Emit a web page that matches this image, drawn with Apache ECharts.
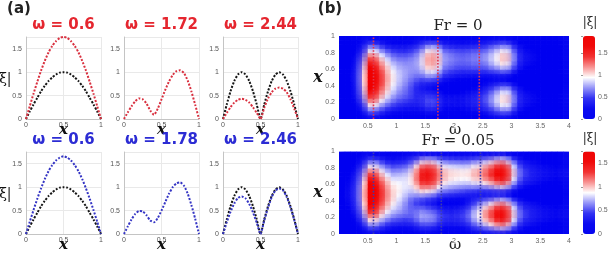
<!DOCTYPE html>
<html lang="en">
<head>
    <meta charset="UTF-8">
    <title>Response of the beam</title>
    <script src="https://cdn.jsdelivr.net/npm/echarts@6/dist/echarts.min.js"></script>
    <style>
        html, body {
            margin: 0;
            padding: 0;
            background: #fff;
        }
        #box {
            width: 614px;
            height: 255px;
        }
    </style>
</head>
<body>
<div id="box"></div>
<script>
    // ---- panel (a): mode shapes along x ----
    var xs = [0, 0.05, 0.1, 0.15, 0.2, 0.25, 0.3, 0.35, 0.4, 0.45, 0.5, 0.55, 0.6, 0.65, 0.7, 0.75, 0.8, 0.85, 0.9, 0.95, 1];
    var topOmegas = [0.6, 1.72, 2.44];   // Fr = 0
    var bottomOmegas = [0.6, 1.78, 2.46]; // Fr = 0.05

    var blackMode1 = [0, 0.16, 0.31, 0.45, 0.59, 0.71, 0.81, 0.89, 0.95, 0.99, 1, 0.99, 0.95, 0.89, 0.81, 0.71, 0.59, 0.45, 0.31, 0.16, 0];
    var blackMode2 = [0, 0.31, 0.59, 0.81, 0.95, 1, 0.95, 0.81, 0.59, 0.31, 0, 0.31, 0.59, 0.81, 0.95, 1, 0.95, 0.81, 0.59, 0.31, 0];
    var red06 = [0, 0.27, 0.54, 0.79, 1.03, 1.24, 1.42, 1.56, 1.66, 1.73, 1.75, 1.73, 1.66, 1.56, 1.42, 1.24, 1.03, 0.79, 0.54, 0.27, 0];
    var red172 = [0, 0.14, 0.27, 0.38, 0.44, 0.42, 0.33, 0.18, 0.09, 0.22, 0.42, 0.62, 0.80, 0.94, 1.02, 1.04, 0.98, 0.82, 0.58, 0.30, 0];
    var red244 = [0, 0.13, 0.25, 0.35, 0.41, 0.43, 0.41, 0.35, 0.25, 0.13, 0, 0.24, 0.44, 0.57, 0.65, 0.67, 0.65, 0.57, 0.42, 0.22, 0];
    var blue06 = [0, 0.26, 0.51, 0.75, 0.97, 1.17, 1.34, 1.47, 1.57, 1.63, 1.66, 1.63, 1.57, 1.47, 1.34, 1.17, 0.97, 0.75, 0.51, 0.26, 0];
    var blue178 = [0, 0.16, 0.31, 0.43, 0.49, 0.48, 0.40, 0.29, 0.25, 0.34, 0.50, 0.68, 0.86, 1.00, 1.08, 1.10, 1.03, 0.86, 0.61, 0.32, 0];
    var blue246 = [0, 0.25, 0.47, 0.65, 0.77, 0.80, 0.76, 0.64, 0.46, 0.24, 0, 0.29, 0.56, 0.79, 0.93, 0.97, 0.93, 0.79, 0.57, 0.30, 0];

    // ---- panel (b): |xi| over (omega, x), one row per omega cell, x from 0 to 1 ----
    var omegaCells = [0.05, 0.15, 0.25, 0.35, 0.45, 0.55, 0.65, 0.75, 0.85, 0.95, 1.05, 1.15, 1.25, 1.35, 1.45, 1.55, 1.65, 1.75, 1.85, 1.95,
        2.05, 2.15, 2.25, 2.35, 2.45, 2.55, 2.65, 2.75, 2.85, 2.95, 3.05, 3.15, 3.25, 3.35, 3.45, 3.55, 3.65, 3.75, 3.85, 3.95];
    var xCells = [0.025, 0.075, 0.125, 0.175, 0.225, 0.275, 0.325, 0.375, 0.425, 0.475, 0.525, 0.575, 0.625, 0.675, 0.725, 0.775, 0.825, 0.875, 0.925, 0.975];
    var barMax = [1.88, 1.75];

    var fr0Map = [
        [.01,.03,.06,.08,.1,.11,.13,.14,.15,.15,.15,.15,.14,.13,.11,.1,.08,.06,.03,.01],
        [.01,.04,.07,.09,.12,.14,.15,.17,.17,.18,.18,.17,.17,.15,.14,.12,.09,.07,.04,.01],
        [.02,.06,.1,.13,.16,.19,.21,.23,.24,.25,.25,.24,.23,.21,.19,.16,.13,.1,.06,.02],
        [.04,.1,.17,.23,.29,.34,.38,.41,.44,.45,.45,.44,.41,.38,.34,.29,.23,.17,.1,.04],
        [.08,.22,.36,.49,.62,.72,.81,.87,.92,.95,.95,.92,.87,.81,.72,.62,.49,.36,.22,.08],
        [.15,.43,.7,.96,1.2,1.41,1.57,1.7,1.79,1.85,1.85,1.79,1.7,1.57,1.41,1.2,.96,.7,.43,.15],
        [.14,.41,.68,.94,1.17,1.37,1.53,1.66,1.75,1.8,1.8,1.75,1.66,1.53,1.37,1.17,.94,.68,.41,.14],
        [.12,.33,.55,.75,.94,1.1,1.23,1.33,1.41,1.45,1.45,1.41,1.33,1.23,1.1,.94,.75,.55,.33,.12],
        [.09,.27,.45,.61,.77,.9,1.0,1.09,1.14,1.18,1.18,1.14,1.09,1.0,.9,.77,.61,.45,.27,.09],
        [.08,.23,.37,.51,.64,.74,.83,.9,.95,.98,.98,.95,.9,.83,.74,.64,.51,.37,.23,.08],
        [.07,.2,.33,.45,.55,.64,.71,.76,.81,.84,.85,.84,.79,.75,.67,.58,.48,.35,.21,.08],
        [.07,.19,.3,.41,.51,.59,.64,.67,.72,.75,.77,.77,.75,.71,.65,.57,.46,.34,.22,.08],
        [.06,.18,.3,.39,.48,.54,.56,.57,.61,.66,.7,.72,.72,.71,.67,.59,.49,.37,.23,.08],
        [.06,.17,.29,.38,.44,.47,.47,.45,.49,.56,.63,.69,.71,.72,.7,.65,.55,.42,.26,.09],
        [.06,.2,.31,.41,.46,.46,.42,.35,.38,.49,.61,.72,.8,.85,.85,.81,.71,.54,.34,.11],
        [.09,.25,.39,.5,.55,.51,.42,.29,.33,.5,.69,.86,1.01,1.1,1.13,1.1,.96,.75,.48,.16],
        [.08,.25,.41,.52,.56,.51,.4,.27,.31,.49,.7,.9,1.05,1.16,1.19,1.17,1.04,.81,.5,.17],
        [.08,.22,.35,.45,.49,.44,.34,.2,.24,.4,.59,.77,.92,1.02,1.06,1.04,.91,.71,.45,.15],
        [.06,.16,.25,.32,.34,.31,.24,.14,.17,.29,.43,.55,.65,.72,.75,.74,.65,.51,.32,.11],
        [.05,.15,.25,.31,.34,.31,.23,.15,.16,.25,.37,.49,.6,.66,.7,.68,.6,.48,.3,.1],
        [.04,.15,.24,.31,.32,.31,.23,.15,.15,.22,.32,.45,.55,.61,.65,.63,.56,.44,.28,.09],
        [.05,.15,.25,.31,.33,.31,.25,.18,.15,.21,.31,.42,.53,.59,.62,.6,.54,.43,.26,.09],
        [.06,.17,.27,.34,.37,.35,.28,.2,.18,.2,.29,.42,.53,.59,.63,.61,.55,.43,.27,.09],
        [.06,.18,.31,.39,.42,.4,.33,.25,.2,.2,.28,.42,.55,.62,.66,.65,.58,.46,.28,.1],
        [.07,.2,.33,.42,.47,.45,.37,.29,.22,.2,.27,.41,.55,.62,.68,.67,.59,.47,.29,.1],
        [.08,.24,.39,.48,.53,.52,.44,.35,.26,.19,.25,.4,.55,.63,.7,.7,.61,.49,.31,.11],
        [.11,.31,.48,.6,.67,.65,.58,.46,.32,.2,.24,.45,.62,.74,.8,.79,.71,.57,.36,.12],
        [.13,.38,.59,.75,.83,.82,.74,.58,.39,.2,.23,.48,.69,.85,.91,.91,.83,.65,.42,.14],
        [.16,.46,.71,.91,1.0,1.0,.91,.71,.48,.21,.23,.53,.79,.98,1.06,1.06,.96,.75,.49,.17],
        [.16,.47,.74,.93,1.03,1.03,.93,.75,.49,.21,.22,.52,.78,.97,1.06,1.06,.96,.76,.48,.17],
        [.12,.33,.52,.65,.72,.72,.65,.52,.34,.14,.15,.36,.55,.67,.74,.74,.66,.53,.34,.12],
        [.08,.21,.33,.42,.47,.47,.42,.34,.22,.09,.1,.23,.35,.43,.48,.48,.43,.34,.21,.08],
        [.06,.16,.25,.31,.35,.35,.31,.25,.16,.06,.06,.16,.25,.31,.35,.35,.31,.25,.16,.06],
        [.05,.14,.21,.27,.3,.3,.27,.21,.14,.05,.05,.14,.21,.27,.3,.3,.27,.21,.14,.05],
        [.04,.12,.18,.23,.26,.26,.23,.18,.12,.04,.04,.12,.18,.23,.26,.26,.23,.18,.12,.04],
        [.04,.1,.16,.2,.23,.23,.2,.16,.1,.04,.04,.1,.16,.2,.23,.23,.2,.16,.1,.04],
        [.03,.09,.15,.19,.21,.21,.19,.15,.09,.03,.03,.09,.15,.19,.21,.21,.19,.15,.09,.03],
        [.03,.09,.14,.18,.2,.2,.18,.14,.09,.03,.03,.09,.14,.18,.2,.2,.18,.14,.09,.03],
        [.03,.09,.13,.17,.19,.19,.17,.13,.09,.03,.03,.09,.13,.17,.19,.19,.17,.13,.09,.03],
        [.03,.08,.13,.16,.18,.18,.16,.13,.08,.03,.03,.08,.13,.16,.18,.18,.16,.13,.08,.03]
    ];

    var fr005Map = [
        [.02,.05,.08,.1,.13,.15,.17,.18,.19,.2,.2,.19,.18,.17,.15,.13,.1,.08,.05,.02],
        [.02,.06,.1,.13,.16,.19,.21,.23,.24,.25,.25,.24,.23,.21,.19,.16,.13,.1,.06,.02],
        [.03,.07,.12,.17,.21,.24,.27,.29,.31,.32,.32,.31,.29,.27,.24,.21,.17,.12,.07,.03],
        [.04,.12,.19,.26,.33,.38,.43,.46,.49,.5,.5,.49,.46,.43,.38,.33,.26,.19,.12,.04],
        [.08,.22,.36,.49,.62,.72,.81,.87,.92,.95,.95,.92,.87,.81,.72,.62,.49,.36,.22,.08],
        [.14,.4,.65,.89,1.12,1.31,1.46,1.58,1.67,1.72,1.72,1.67,1.58,1.46,1.31,1.12,.89,.65,.4,.14],
        [.14,.4,.67,.91,1.14,1.33,1.49,1.61,1.7,1.75,1.75,1.7,1.61,1.49,1.33,1.14,.91,.67,.4,.14],
        [.11,.32,.53,.73,.91,1.06,1.19,1.29,1.36,1.4,1.4,1.36,1.29,1.19,1.06,.91,.73,.53,.32,.11],
        [.09,.26,.44,.6,.75,.87,.98,1.06,1.12,1.15,1.15,1.12,1.06,.98,.87,.75,.6,.44,.26,.09],
        [.08,.23,.37,.51,.64,.74,.83,.9,.95,.98,.98,.95,.9,.83,.74,.64,.51,.37,.23,.08],
        [.08,.22,.35,.48,.59,.69,.75,.79,.84,.88,.9,.89,.87,.82,.75,.65,.53,.39,.25,.09],
        [.07,.21,.34,.45,.56,.63,.66,.68,.73,.78,.82,.84,.83,.81,.76,.67,.55,.41,.26,.09],
        [.07,.21,.34,.46,.54,.57,.57,.56,.59,.68,.76,.81,.86,.86,.83,.77,.65,.49,.31,.1],
        [.08,.25,.4,.53,.59,.59,.54,.46,.5,.64,.79,.92,1.02,1.08,1.07,1.03,.89,.68,.43,.14],
        [.1,.31,.49,.64,.71,.67,.56,.42,.46,.67,.9,1.11,1.28,1.39,1.41,1.37,1.21,.93,.59,.19],
        [.11,.32,.51,.65,.7,.64,.51,.34,.39,.62,.88,1.11,1.31,1.44,1.49,1.46,1.28,1.0,.64,.22],
        [.1,.3,.49,.63,.67,.6,.47,.3,.35,.57,.83,1.07,1.27,1.4,1.45,1.43,1.26,.98,.62,.21],
        [.09,.25,.4,.51,.55,.5,.38,.22,.27,.45,.67,.88,1.05,1.17,1.21,1.19,1.05,.82,.52,.18],
        [.08,.22,.34,.44,.47,.42,.32,.18,.22,.38,.57,.75,.9,1.0,1.04,1.02,.9,.7,.45,.15],
        [.07,.2,.32,.41,.44,.38,.29,.17,.2,.35,.53,.69,.83,.92,.96,.95,.84,.65,.42,.14],
        [.07,.2,.33,.41,.45,.41,.3,.2,.2,.33,.5,.66,.81,.89,.94,.93,.82,.64,.4,.13],
        [.07,.22,.34,.44,.47,.44,.34,.22,.22,.32,.47,.64,.78,.88,.92,.91,.8,.62,.4,.13],
        [.08,.24,.37,.48,.53,.5,.4,.28,.25,.3,.43,.61,.77,.87,.92,.9,.8,.62,.39,.13],
        [.11,.32,.51,.64,.71,.69,.58,.44,.34,.29,.39,.62,.82,.94,1.02,1.0,.89,.7,.44,.15],
        [.13,.39,.62,.78,.86,.85,.75,.6,.43,.27,.33,.59,.82,.96,1.05,1.04,.92,.73,.47,.16],
        [.16,.48,.75,.96,1.05,1.05,.94,.74,.51,.26,.29,.61,.88,1.07,1.17,1.15,1.04,.82,.52,.18],
        [.19,.56,.88,1.1,1.22,1.23,1.09,.88,.59,.27,.29,.66,.97,1.18,1.3,1.29,1.16,.93,.58,.2],
        [.23,.66,1.04,1.31,1.46,1.46,1.31,1.05,.69,.3,.31,.74,1.11,1.37,1.51,1.5,1.35,1.07,.68,.23],
        [.25,.72,1.14,1.43,1.58,1.59,1.43,1.16,.76,.32,.33,.79,1.19,1.47,1.62,1.61,1.46,1.16,.73,.26],
        [.22,.65,1.02,1.29,1.43,1.44,1.3,1.04,.68,.28,.29,.7,1.07,1.32,1.46,1.45,1.31,1.03,.65,.22],
        [.15,.44,.69,.87,.97,.97,.88,.71,.47,.19,.19,.47,.71,.88,.97,.97,.87,.69,.44,.15],
        [.1,.28,.45,.55,.62,.62,.56,.47,.31,.14,.14,.31,.47,.56,.62,.62,.55,.45,.28,.1],
        [.07,.21,.34,.42,.48,.48,.43,.35,.24,.11,.11,.24,.35,.43,.48,.48,.42,.34,.21,.07],
        [.06,.18,.28,.36,.4,.4,.37,.3,.2,.09,.09,.2,.3,.37,.4,.4,.36,.28,.18,.06],
        [.05,.16,.25,.31,.35,.35,.32,.26,.18,.08,.08,.18,.26,.32,.35,.35,.31,.25,.16,.05],
        [.05,.14,.22,.28,.31,.31,.28,.23,.16,.07,.07,.16,.23,.28,.31,.31,.28,.22,.14,.05],
        [.05,.13,.21,.26,.29,.29,.26,.21,.15,.07,.07,.15,.21,.26,.29,.29,.26,.21,.13,.05],
        [.04,.12,.19,.24,.27,.27,.24,.2,.14,.06,.06,.14,.2,.24,.27,.27,.24,.19,.12,.04],
        [.04,.12,.18,.23,.26,.26,.23,.19,.13,.06,.06,.13,.19,.23,.26,.26,.23,.18,.12,.04],
        [.04,.11,.18,.22,.25,.25,.22,.18,.13,.06,.06,.13,.18,.22,.25,.25,.22,.18,.11,.04]
    ];

    // colours
    var RED = '#d9303f', RED_TITLE = '#e5262f';
    var BLUE = '#3434c4', BLUE_TITLE = '#2c2cd4';
    var BLACK = '#151515';
    // blue-white-red bar, saturated at both ends
    var MAP_COLORS = ['#0505f0', '#0a0af0', '#3232f2', '#9494f8', '#ffffff', '#f89494', '#f23232', '#f00a0a', '#f00505'];

    var halfStep = function (v) {
        return Math.abs(v * 2 - Math.round(v * 2)) < 1e-6 ? String(v) : '';
    };

    // small plots of panel (a)
    var plots = [
        {left: 26, top: 37, omega: topOmegas[0], title: RED_TITLE, lines: [[blackMode1, BLACK], [red06, RED]]},
        {left: 124, top: 37, omega: topOmegas[1], title: RED_TITLE, lines: [[red172, RED]]},
        {left: 223, top: 37, omega: topOmegas[2], title: RED_TITLE, lines: [[blackMode2, BLACK], [red244, RED]]},
        {left: 26, top: 152, omega: bottomOmegas[0], title: BLUE_TITLE, lines: [[blackMode1, BLACK], [blue06, BLUE]]},
        {left: 124, top: 152, omega: bottomOmegas[1], title: BLUE_TITLE, lines: [[blue178, BLUE]]},
        {left: 223, top: 152, omega: bottomOmegas[2], title: BLUE_TITLE, lines: [[blackMode2, BLACK], [blue246, BLUE]]}
    ];

    var grid = [], xAxis = [], yAxis = [], series = [], graphic = [], visualMap = [];

    function label(text, x, y, size, color, family, weight, style) {
        graphic.push({
            type: 'text', x: x, y: y, z: 100, silent: true,
            style: {
                text: text, fill: color, align: 'center', verticalAlign: 'middle',
                fontSize: size, fontFamily: family, fontWeight: weight || 'normal', fontStyle: style || 'normal'
            }
        });
    }

    plots.forEach(function (p, i) {
        grid.push({left: p.left, top: p.top, width: 75, height: 82});
        xAxis.push({
            gridIndex: i, type: 'value', min: 0, max: 1, interval: 0.5,
            axisLine: {lineStyle: {color: '#c4c4c4'}},
            axisTick: {show: false},
            axisLabel: {fontSize: 7, color: '#555', margin: 3, formatter: halfStep},
            splitLine: {lineStyle: {color: '#e9e9e9'}}
        });
        yAxis.push({
            gridIndex: i, type: 'value', min: 0, max: 1.75, interval: 0.5,
            axisLine: {show: true, lineStyle: {color: '#c4c4c4'}},
            axisTick: {show: false},
            axisLabel: {fontSize: 7, color: '#555', margin: 4, formatter: halfStep},
            splitLine: {lineStyle: {color: '#e9e9e9'}}
        });
        p.lines.forEach(function (ln) {
            series.push({
                type: 'line', xAxisIndex: i, yAxisIndex: i, showSymbol: false, smooth: 0.2, silent: true,
                lineStyle: {color: ln[1], width: 2, type: [2, 1.6]},
                data: xs.map(function (x, k) { return [x, ln[0][k]]; })
            });
        });
        label('ω = ' + p.omega, p.left + 37.5, p.top - 12, 15, p.title, '"DejaVu Sans"', 'bold');
        label('x', p.left + 37.5, p.top + 93, 15, '#111', '"DejaVu Serif"', 'bold', 'italic');
    });
    label('|ξ|', 3, 79, 14, '#111', '"DejaVu Serif"');
    label('|ξ|', 3, 194, 14, '#111', '"DejaVu Serif"');
    label('(a)', 19, 9, 15, '#222', '"DejaVu Sans"', 'bold');
    label('(b)', 330, 9, 15, '#222', '"DejaVu Sans"', 'bold');

    // heatmaps of panel (b); the soft shadow of each cell hides the cell edges
    var CELL_W = 0.1, CELL_H = 0.05;
    function heatCell(params, api) {
        var a = api.coord([api.value(0) - CELL_W / 2, api.value(1) + CELL_H / 2]);
        var b = api.coord([api.value(0) + CELL_W / 2, api.value(1) - CELL_H / 2]);
        var c = api.visual('color');
        return {
            type: 'rect',
            shape: {x: a[0], y: a[1], width: b[0] - a[0] + 0.5, height: b[1] - a[1] + 0.5},
            style: {fill: c, shadowBlur: 10, shadowColor: c}
        };
    }

    var maps = [
        {top: 36, height: 83, data: fr0Map, omegas: topOmegas, lineColor: '#e0354c', name: 'Fr = 0'},
        {top: 151.5, height: 82.5, data: fr005Map, omegas: bottomOmegas, lineColor: '#3c3cae', name: 'Fr = 0.05'}
    ];

    maps.forEach(function (m, j) {
        var gi = 6 + j;
        grid.push({left: 339, top: m.top, width: 230, height: m.height});
        xAxis.push({
            gridIndex: gi, type: 'value', min: 0, max: 4, interval: 0.5,
            axisLine: {show: false}, axisTick: {show: false}, splitLine: {show: false},
            axisLabel: {fontSize: 7, color: '#666', margin: 4, formatter: function (v) { return v === 0 ? '' : String(v); }}
        });
        yAxis.push({
            gridIndex: gi, type: 'value', min: 0, max: 1, interval: 0.2,
            axisLine: {show: false}, axisTick: {show: false}, splitLine: {show: false},
            axisLabel: {fontSize: 7, color: '#666', margin: 4}
        });
        var cells = [];
        omegaCells.forEach(function (w, a) {
            xCells.forEach(function (x, b) {
                cells.push([w, x, m.data[a][b]]);
            });
        });
        visualMap.push({
            type: 'continuous', seriesIndex: series.length, dimension: 2,
            min: 0, max: barMax[j], calculable: false, padding: 0,
            left: 583, top: m.top, itemWidth: 12, itemHeight: m.height,
            inRange: {color: MAP_COLORS}
        });
        series.push({
            type: 'custom', xAxisIndex: gi, yAxisIndex: gi, clip: true, silent: true,
            renderItem: heatCell, encode: {x: 0, y: 1}, data: cells
        });
        m.omegas.forEach(function (w) {
            series.push({
                type: 'line', xAxisIndex: gi, yAxisIndex: gi, showSymbol: false, silent: true,
                lineStyle: {color: m.lineColor, width: 1.6, type: [1.6, 1.6]},
                data: [[w, 0], [w, 1]]
            });
        });
        label(m.name, 458, m.top - 10, 15, '#222', '"DejaVu Serif"');
        label('ω', 455, m.top + m.height + 11, 15, '#222', '"DejaVu Serif"');
        label('x', 318, m.top + m.height / 2, 16, '#111', '"DejaVu Serif"', 'bold', 'italic');
        label('|ξ|', 590, m.top - 13, 12, '#222', '"DejaVu Serif"');
    });

    // colour bar tick labels
    maps.forEach(function (m, j) {
        var gi = 8 + j;
        grid.push({left: 583, top: m.top, width: 12, height: m.height});
        xAxis.push({gridIndex: gi, type: 'value', show: false, min: 0, max: 1});
        yAxis.push({
            gridIndex: gi, type: 'value', min: 0, max: barMax[j], interval: 0.5, position: 'right',
            axisLine: {show: false}, splitLine: {show: false},
            axisTick: {show: true, length: 2, inside: true, lineStyle: {color: '#999'}},
            axisLabel: {fontSize: 7, color: '#666', margin: 3, formatter: halfStep}
        });
    });

    var myChart = echarts.init(document.getElementById('box'));
    myChart.setOption({
        animation: false,
        backgroundColor: '#fff',
        grid: grid,
        xAxis: xAxis,
        yAxis: yAxis,
        visualMap: visualMap,
        series: series,
        graphic: graphic
    });
</script>
</body>
</html>
